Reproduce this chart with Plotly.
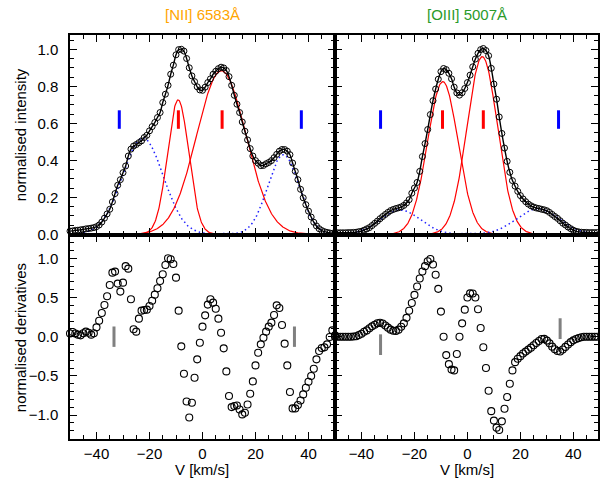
import numpy as np
import plotly.graph_objects as go

# ---------------- data ----------------
velocity = [-50, -49, -48, -47, -46, -45, -44, -43, -42, -41, -40, -39, -38, -37, -36, -35, -34, -33, -32, -31,
            -30, -29, -28, -27, -26, -25, -24, -23, -22, -21, -20, -19, -18, -17, -16, -15, -14, -13, -12, -11,
            -10, -9, -8, -7, -6, -5, -4, -3, -2, -1, 0, 1, 2, 3, 4, 5, 6, 7, 8, 9,
            10, 11, 12, 13, 14, 15, 16, 17, 18, 19, 20, 21, 22, 23, 24, 25, 26, 27, 28, 29,
            30, 31, 32, 33, 34, 35, 36, 37, 38, 39, 40, 41, 42, 43, 44, 45, 46, 47, 48, 49, 50]

nii_profile = [0.017, 0.018, 0.021, 0.022, 0.024, 0.026, 0.029, 0.031, 0.033, 0.036,
               0.041, 0.050, 0.066, 0.087, 0.110, 0.135, 0.175, 0.220, 0.265, 0.295,
               0.333, 0.369, 0.423, 0.460, 0.477, 0.485, 0.495, 0.505, 0.523, 0.535,
               0.559, 0.582, 0.604, 0.631, 0.658, 0.712, 0.757, 0.805, 0.865, 0.914,
               0.970, 0.998, 1.000, 0.990, 0.950, 0.900, 0.856, 0.825, 0.797, 0.780,
               0.778, 0.795, 0.820, 0.840, 0.865, 0.881, 0.895, 0.903, 0.899, 0.885,
               0.852, 0.805, 0.751, 0.703, 0.658, 0.607, 0.557, 0.510, 0.463, 0.423,
               0.398, 0.384, 0.371, 0.372, 0.381, 0.388, 0.398, 0.414, 0.432, 0.449,
               0.458, 0.458, 0.449, 0.430, 0.385, 0.340, 0.295, 0.243, 0.197, 0.160,
               0.125, 0.093, 0.065, 0.045, 0.030, 0.020, 0.014, 0.010, 0.007, 0.005, 0.004]

oiii_profile = [0.008, 0.008, 0.008, 0.008, 0.008, 0.009, 0.009, 0.010, 0.011, 0.014,
                0.016, 0.022, 0.029, 0.036, 0.047, 0.059, 0.071, 0.084, 0.096, 0.107,
                0.118, 0.128, 0.134, 0.139, 0.143, 0.148, 0.156, 0.169, 0.187, 0.222,
                0.250, 0.280, 0.340, 0.420, 0.490, 0.566, 0.647, 0.722, 0.785, 0.838,
                0.879, 0.896, 0.890, 0.870, 0.840, 0.795, 0.764, 0.752, 0.765, 0.788,
                0.820, 0.860, 0.905, 0.947, 0.978, 0.998, 1.004, 0.993, 0.965, 0.897,
                0.812, 0.730, 0.634, 0.545, 0.466, 0.394, 0.335, 0.290, 0.260, 0.232,
                0.209, 0.191, 0.176, 0.163, 0.154, 0.147, 0.142, 0.139, 0.135, 0.132,
                0.127, 0.118, 0.107, 0.096, 0.086, 0.073, 0.060, 0.050, 0.039, 0.030,
                0.022, 0.016, 0.013, 0.011, 0.010, 0.010, 0.009, 0.009, 0.009, 0.009, 0.009]

nii_deriv = [0.040, 0.060, 0.040, 0.026, 0.017, 0.043, 0.064, 0.051, 0.026, 0.043,
             0.119, 0.204, 0.302, 0.404, 0.515, 0.660, 0.817, 0.830, 0.677, 0.575,
             0.689, 0.900, 0.868, 0.477, 0.094, 0.064, 0.230, 0.332, 0.340, 0.345,
             0.391, 0.459, 0.536, 0.617, 0.711, 0.796, 0.915, 1.000, 0.987, 0.928,
             0.753, 0.332, -0.123, -0.472, -0.826, -1.030, -0.843, -0.523, -0.289, -0.077,
             0.128, 0.272, 0.409, 0.477, 0.434, 0.357, 0.230, 0.051, -0.149, -0.443,
             -0.757, -0.898, -0.885, -0.877, -0.928, -0.991, -0.970, -0.864, -0.728, -0.570,
             -0.366, -0.204, -0.098, -0.013, 0.064, 0.128, 0.179, 0.277, 0.400, 0.366,
             0.149, -0.089, -0.366, -0.706, -0.915, -0.915, -0.872, -0.813, -0.736, -0.651,
             -0.574, -0.502, -0.409, -0.289, -0.183, -0.145, -0.136, -0.098, -0.004, 0.081, 0.017]

oiii_deriv = [0.000, 0.000, 0.000, 0.000, 0.000, 0.000, 0.000, 0.002, 0.006, 0.020,
              0.037, 0.063, 0.080, 0.108, 0.132, 0.153, 0.172, 0.178, 0.168, 0.143,
              0.115, 0.090, 0.076, 0.074, 0.090, 0.127, 0.170, 0.240, 0.330, 0.430,
              0.533, 0.640, 0.743, 0.832, 0.900, 0.963, 0.990, 0.920, 0.790, 0.610,
              0.320, 0.000, -0.235, -0.350, -0.420, -0.430, -0.220, 0.000, 0.170, 0.345,
              0.500, 0.553, 0.550, 0.500, 0.350, 0.110, -0.135, -0.400, -0.690, -0.950,
              -1.070, -1.160, -1.190, -1.080, -0.920, -0.770, -0.600, -0.430, -0.325, -0.282,
              -0.248, -0.215, -0.190, -0.165, -0.140, -0.109, -0.080, -0.055, -0.030, -0.028,
              -0.050, -0.085, -0.127, -0.160, -0.183, -0.188, -0.163, -0.130, -0.100, -0.070,
              -0.047, -0.030, -0.018, -0.007, 0.000, 0.000, 0.000, 0.000, 0.000, 0.000, 0.000]

# Gaussian fit components (centre, amplitude, sigma)
nii_comp_center = [-22.5, -9.2, 7.1, 30.5]
nii_comp_amp = [0.52, 0.726, 0.884, 0.43]
nii_comp_sigma = [7.7, 4.0, 9.3, 5.9]
nii_comp_kind = ["broad", "narrow", "narrow", "broad"]

oiii_comp_center = [-25.3, -9.3, 5.6, 26.5]
oiii_comp_amp = [0.131, 0.825, 0.96, 0.138]
oiii_comp_sigma = [7.5, 5.75, 5.75, 8.0]
oiii_comp_kind = ["broad", "narrow", "narrow", "broad"]

# vertical marks in the profile panels
nii_mark_v = [-31.4, -9.1, 7.4, 37.3]
oiii_mark_v = [-32.8, -9.4, 6.0, 34.4]
mark_kind = ["broad", "narrow", "narrow", "broad"]
mark_y = [0.57, 0.67]

# grey marks in the derivative panels: (v, y_low, y_high)
nii_dmark_v = [-33.4, 34.7]
nii_dmark_lo = [-0.13, -0.13]
nii_dmark_hi = [0.13, 0.13]
oiii_dmark_v = [-32.8, 35.0]
oiii_dmark_lo = [-0.234, -0.03]
oiii_dmark_hi = [0.03, 0.235]

titles = ["[NII] 6583Å", "[OIII] 5007Å"]
title_colors = ["#FFA500", "#2A9A2A"]

# ---------------- figure ----------------
FONT = "Liberation Sans, Arial, sans-serif"
kind_color = {"broad": "#0000FF", "narrow": "#FF0000"}

fig = go.Figure()
model_v = np.linspace(-50, 50, 601)

panels = [
    ("x", "y", nii_profile, nii_comp_center, nii_comp_amp, nii_comp_sigma, nii_comp_kind, nii_mark_v),
    ("x2", "y2", oiii_profile, oiii_comp_center, oiii_comp_amp, oiii_comp_sigma, oiii_comp_kind, oiii_mark_v),
]
for xa, ya, prof, cc, aa, ss, kk, mv in panels:
    for c, a, s, k in zip(cc, aa, ss, kk):
        g = a * np.exp(-0.5 * ((model_v - c) / s) ** 2)
        if k == "broad":
            line = dict(color="#2020FF", width=1.5, dash="1.5px,3px")
        else:
            line = dict(color="#FF0000", width=1.2)
        fig.add_trace(go.Scatter(x=model_v, y=g, mode="lines", line=line,
                                 xaxis=xa, yaxis=ya, hoverinfo="skip"))
    fig.add_trace(go.Scatter(x=velocity, y=prof, mode="lines",
                             line=dict(color="black", width=1.4, shape="spline", smoothing=0.8),
                             xaxis=xa, yaxis=ya))
    fig.add_trace(go.Scatter(x=velocity, y=prof, mode="markers",
                             marker=dict(symbol="circle-open", size=6, color="black",
                                         line=dict(width=1, color="black")),
                             cliponaxis=False, xaxis=xa, yaxis=ya))
    for v, k in zip(mv, mark_kind):
        fig.add_trace(go.Scatter(x=[v, v], y=mark_y, mode="lines",
                                 line=dict(color=kind_color[k], width=3),
                                 xaxis=xa, yaxis=ya))

dpanels = [
    ("x3", "y3", nii_deriv, nii_dmark_v, nii_dmark_lo, nii_dmark_hi),
    ("x4", "y4", oiii_deriv, oiii_dmark_v, oiii_dmark_lo, oiii_dmark_hi),
]
for xa, ya, der, dv, lo, hi in dpanels:
    fig.add_trace(go.Scatter(x=velocity, y=der, mode="markers",
                             marker=dict(symbol="circle-open", size=7, color="black",
                                         line=dict(width=1.1, color="black")),
                             cliponaxis=False, xaxis=xa, yaxis=ya))
    for v, l, h in zip(dv, lo, hi):
        fig.add_trace(go.Scatter(x=[v, v], y=[l, h], mode="lines",
                                 line=dict(color="#808080", width=3),
                                 xaxis=xa, yaxis=ya))

# ---------------- layout ----------------
L, R, T, B = 70, 0, 35, 47
W, H = 600, 486
pw, ph = W - L - R, H - T - B
xsplit = (336 - L) / pw
ysplit = (H - B - 235) / ph

def xax(domain, anchor, rng, labels):
    return dict(domain=domain, anchor=anchor, range=rng, showline=True, linecolor="black",
                linewidth=1.5, mirror="ticks", ticks="inside", ticklen=7, tickwidth=1.2,
                tickcolor="black", dtick=20, tick0=0, showticklabels=labels,
                minor=dict(ticks="inside", ticklen=4, dtick=5, tick0=0, tickwidth=1, tickcolor="black"),
                showgrid=False, zeroline=False, ticklabelstandoff=0,
                tickfont=dict(family=FONT, size=15, color="black"))

def yax(domain, anchor, rng, dt, mdt, labels):
    return dict(domain=domain, anchor=anchor, range=rng, showline=True, linecolor="black",
                linewidth=1.5, mirror="ticks", ticks="inside", ticklen=7, tickwidth=1.2,
                tickcolor="black", dtick=dt, tick0=0, tickformat=".1f", showticklabels=labels,
                minor=dict(ticks="inside", ticklen=4, dtick=mdt, tick0=0, tickwidth=1, tickcolor="black"),
                showgrid=False, zeroline=False, ticklabelstandoff=7,
                tickfont=dict(family=FONT, size=15, color="black"))

top_rng = [-0.004, 1.077]
bot_rng = [-1.305, 1.297]

annotations = []
for i, t in enumerate(titles):
    xc = [(203 - L) / pw, (469 - L) / pw][i]
    annotations.append(dict(text=t, x=xc, y=1 + 20 / ph, xref="paper", yref="paper",
                            showarrow=False, font=dict(family=FONT, size=15, color=title_colors[i]),
                            xanchor="center", yanchor="middle"))
    annotations.append(dict(text="V [km/s]", x=xc, y=-(469 - (H - B)) / ph, xref="paper", yref="paper",
                            showarrow=False, font=dict(family=FONT, size=15, color="black"),
                            xanchor="center", yanchor="middle"))
annotations.append(dict(text="normalised intensity", x=(20 - L) / pw, y=(H - B - 135) / ph,
                        xref="paper", yref="paper", textangle=-90, showarrow=False,
                        font=dict(family=FONT, size=15, color="black"),
                        xanchor="center", yanchor="middle"))
annotations.append(dict(text="normalised derivatives", x=(20 - L) / pw, y=(H - B - 338) / ph,
                        xref="paper", yref="paper", textangle=-90, showarrow=False,
                        font=dict(family=FONT, size=15, color="black"),
                        xanchor="center", yanchor="middle"))

fig.update_layout(
    width=W, height=H, margin=dict(l=L, r=R, t=T, b=B, pad=0),
    paper_bgcolor="white", plot_bgcolor="white", showlegend=False,
    font=dict(family=FONT, size=15, color="black"),
    xaxis=xax([0, xsplit], "y", [-50, 50], False),
    xaxis2=xax([xsplit, 1], "y2", [-50, 49.3], False),
    xaxis3=xax([0, xsplit], "y3", [-50, 50], True),
    xaxis4=xax([xsplit, 1], "y4", [-50, 49.3], True),
    yaxis=yax([ysplit, 1], "x", top_rng, 0.2, 0.05, True),
    yaxis2=yax([ysplit, 1], "x2", top_rng, 0.2, 0.05, False),
    yaxis3=yax([0, ysplit], "x3", bot_rng, 0.5, 0.1, True),
    yaxis4=yax([0, ysplit], "x4", bot_rng, 0.5, 0.1, False),
    annotations=annotations,
)

fig.write_html("out.html")
